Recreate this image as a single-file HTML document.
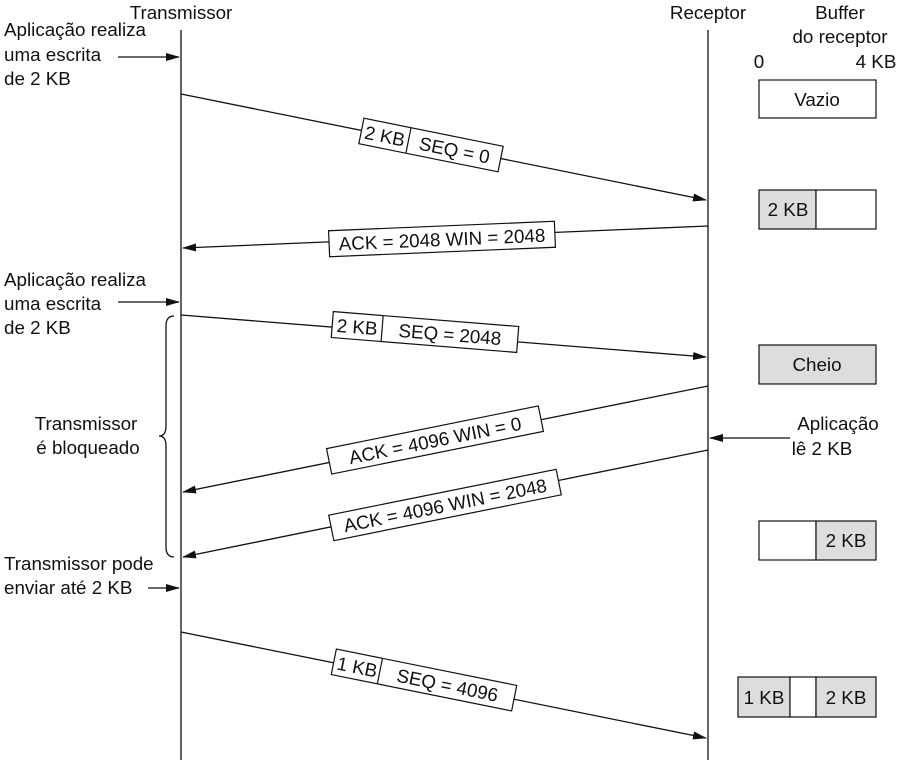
<!DOCTYPE html>
<html><head><meta charset="utf-8"><style>
html,body{margin:0;padding:0;background:#fff;}
svg{display:block;font-family:"Liberation Sans",sans-serif;}
text{font-size:18.8px;fill:#111;}
</style></head><body>
<svg width="900" height="760" viewBox="0 0 900 760" xmlns="http://www.w3.org/2000/svg">
<defs>
<marker id="ah" markerWidth="14" markerHeight="8" refX="13" refY="4" orient="auto" markerUnits="userSpaceOnUse">
<path d="M0,0 L14,4 L0,8 Z" fill="#111"/>
</marker>
</defs>
<g stroke="#111" stroke-width="1.3" fill="none">
<line x1="181" y1="30" x2="181" y2="760"/>
<line x1="708" y1="30" x2="708" y2="760"/>
<line x1="181" y1="94" x2="706" y2="200" marker-end="url(#ah)"/>
<line x1="708" y1="226" x2="183" y2="248" marker-end="url(#ah)"/>
<line x1="181" y1="315" x2="706" y2="357" marker-end="url(#ah)"/>
<line x1="708" y1="386" x2="183" y2="492" marker-end="url(#ah)"/>
<line x1="708" y1="450" x2="183" y2="557" marker-end="url(#ah)"/>
<line x1="181" y1="632" x2="706" y2="738" marker-end="url(#ah)"/>
<line x1="118" y1="57" x2="179" y2="57" marker-end="url(#ah)"/>
<line x1="118" y1="302" x2="179" y2="302" marker-end="url(#ah)"/>
<line x1="148" y1="588" x2="179" y2="588" marker-end="url(#ah)"/>
<line x1="790" y1="438" x2="710" y2="438" marker-end="url(#ah)"/>
<path d="M174,316 Q166,316 166,326 L166,426 Q166,436 159,436 Q166,436 166,446 L166,547 Q166,557 174,557"/>
</g>
<text x="181" y="19" text-anchor="middle">Transmissor</text>
<text x="708" y="19" text-anchor="middle">Receptor</text>
<text x="840" y="19" text-anchor="middle">Buffer</text>
<text x="840" y="43" text-anchor="middle">do receptor</text>
<text x="759" y="68" text-anchor="middle">0</text>
<text x="876" y="68" text-anchor="middle">4 KB</text>
<text x="4" y="36">Aplicação realiza</text>
<text x="4" y="61">uma escrita</text>
<text x="4" y="85">de 2 KB</text>
<text x="4" y="286">Aplicação realiza</text>
<text x="4" y="310">uma escrita</text>
<text x="4" y="334">de 2 KB</text>
<text x="86" y="430" text-anchor="middle">Transmissor</text>
<text x="88" y="454" text-anchor="middle">é bloqueado</text>
<text x="4" y="570">Transmissor pode</text>
<text x="4" y="594">enviar até 2 KB</text>
<text x="838" y="430" text-anchor="middle">Aplicação</text>
<text x="822" y="455" text-anchor="middle">lê 2 KB</text>
<g transform="translate(431,145) rotate(11.4)">
<rect x="-71" y="-13" width="142" height="26" fill="#fff" stroke="#111" stroke-width="1.2"/>
<line x1="-23" y1="-13" x2="-23" y2="13" stroke="#111" stroke-width="1.2"/>
<text x="-47" y="7" text-anchor="middle">2 KB</text>
<text x="24" y="7" text-anchor="middle">SEQ = 0</text>
</g>
<g transform="translate(442,239) rotate(-2.4)">
<rect x="-113" y="-13" width="226" height="26" fill="#fff" stroke="#111" stroke-width="1.2"/>
<text x="0" y="7" text-anchor="middle">ACK = 2048 WIN = 2048</text>
</g>
<g transform="translate(425,332) rotate(4.6)">
<rect x="-93" y="-13" width="186" height="26" fill="#fff" stroke="#111" stroke-width="1.2"/>
<line x1="-43" y1="-13" x2="-43" y2="13" stroke="#111" stroke-width="1.2"/>
<text x="-68" y="7" text-anchor="middle">2 KB</text>
<text x="25" y="7" text-anchor="middle">SEQ = 2048</text>
</g>
<g transform="translate(435,440) rotate(-11.4)">
<rect x="-108" y="-13" width="216" height="26" fill="#fff" stroke="#111" stroke-width="1.2"/>
<text x="0" y="7" text-anchor="middle">ACK = 4096 WIN = 0</text>
</g>
<g transform="translate(445,505) rotate(-11.4)">
<rect x="-116" y="-13" width="232" height="26" fill="#fff" stroke="#111" stroke-width="1.2"/>
<text x="0" y="7" text-anchor="middle">ACK = 4096 WIN = 2048</text>
</g>
<g transform="translate(424,680) rotate(11.4)">
<rect x="-92" y="-13" width="184" height="26" fill="#fff" stroke="#111" stroke-width="1.2"/>
<line x1="-45" y1="-13" x2="-45" y2="13" stroke="#111" stroke-width="1.2"/>
<text x="-68" y="7" text-anchor="middle">1 KB</text>
<text x="24" y="7" text-anchor="middle">SEQ = 4096</text>
</g>
<g stroke="#111" stroke-width="1.2">
<rect x="759" y="80" width="117" height="38" fill="#fff"/>
<rect x="759" y="190" width="57" height="39" fill="#ddd"/>
<rect x="816" y="190" width="60" height="39" fill="#fff"/>
<rect x="759" y="345" width="117" height="39" fill="#ddd"/>
<rect x="759" y="521" width="57" height="39" fill="#fff"/>
<rect x="816" y="521" width="60" height="39" fill="#ddd"/>
<rect x="738" y="677" width="52" height="40" fill="#ddd"/>
<rect x="790" y="677" width="26" height="40" fill="#fff"/>
<rect x="816" y="677" width="60" height="40" fill="#ddd"/>
</g>
<text x="817" y="106" text-anchor="middle">Vazio</text>
<text x="788" y="216" text-anchor="middle">2 KB</text>
<text x="817" y="371" text-anchor="middle">Cheio</text>
<text x="846" y="547" text-anchor="middle">2 KB</text>
<text x="764" y="704" text-anchor="middle">1 KB</text>
<text x="846" y="704" text-anchor="middle">2 KB</text>
</svg>
</body></html>
